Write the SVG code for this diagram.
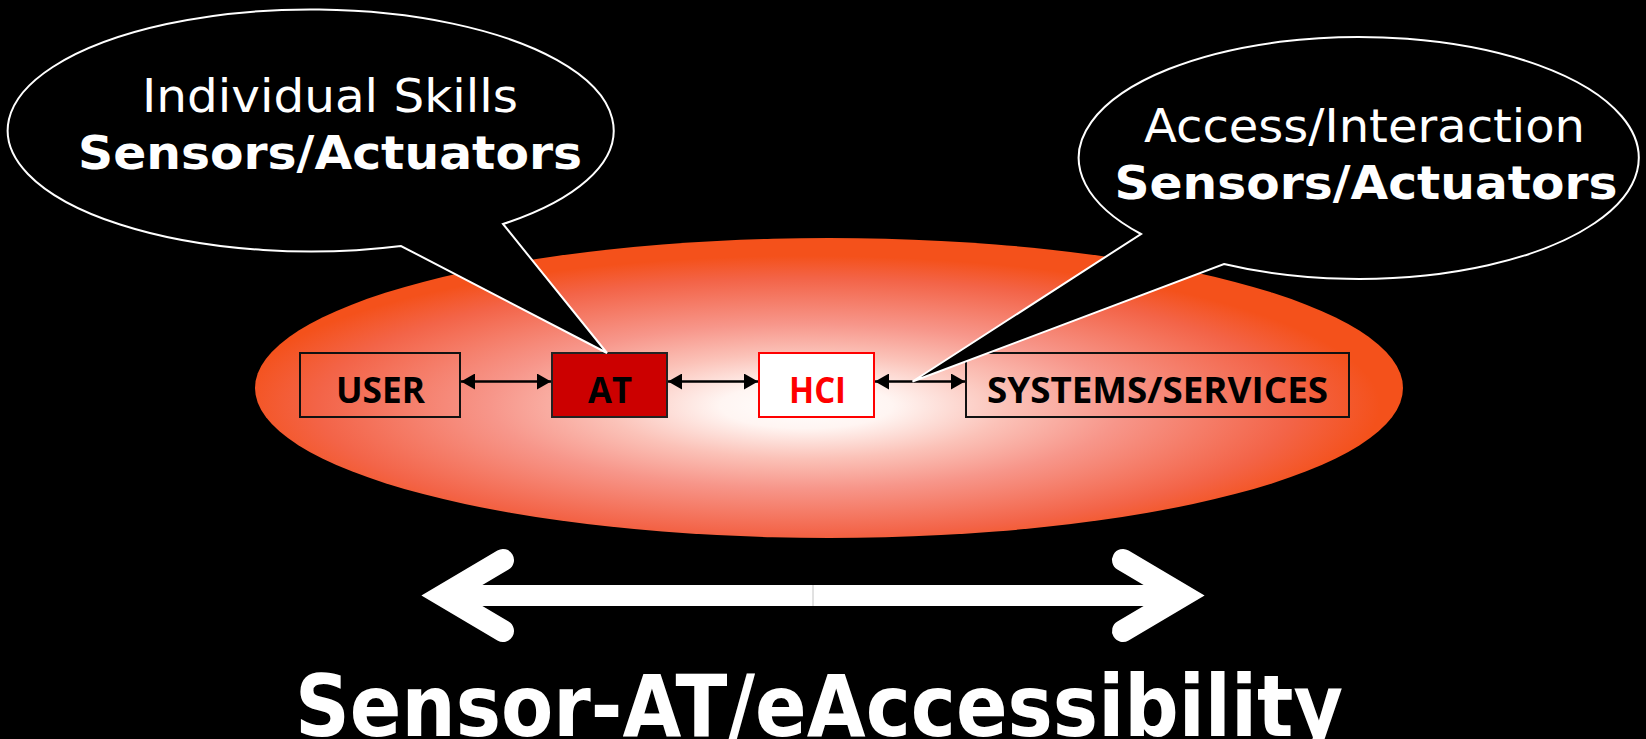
<svg xmlns="http://www.w3.org/2000/svg" width="1646" height="739" viewBox="0 0 1646 739">
  <defs>
    <radialGradient id="glow" cx="0.48" cy="0.56" r="0.5" fx="0.48" fy="0.56">
      <stop offset="0" stop-color="#FFFFFF"/>
      <stop offset="0.15" stop-color="#FFF5F2"/>
      <stop offset="0.35" stop-color="#FBC2B8"/>
      <stop offset="0.55" stop-color="#F7968A"/>
      <stop offset="0.85" stop-color="#F36448"/>
      <stop offset="1" stop-color="#F4511B"/>
    </radialGradient>
    <marker id="head" viewBox="0 0 14 16" refX="14" refY="8" markerWidth="14" markerHeight="16" markerUnits="userSpaceOnUse" orient="auto-start-reverse">
      <path d="M0,0 L14,8 L0,16 Z" fill="#000"/>
    </marker>
    <style>
      .box { stroke-width: 2; }
      .label { font-family: "Open Sans", "Liberation Sans", sans-serif; font-weight: 700; font-size: 36px; text-anchor: middle; }
      .bubble { fill: #000; stroke: #fff; stroke-width: 2; stroke-linejoin: miter; }
      .say { font-family: "DejaVu Sans", "Liberation Sans", sans-serif; font-size: 47px; fill: #fff; text-anchor: middle; }
      .say.b { font-weight: 700; }
      .link { stroke: #000; stroke-width: 2.5; fill: none; marker-start: url(#head); marker-end: url(#head); }
      .chev { fill: none; stroke: #fff; stroke-width: 22; stroke-linecap: round; stroke-linejoin: miter; }
      .title { font-family: "DejaVu Sans", "Liberation Sans", sans-serif; font-weight: 700; font-size: 86px; fill: #fff; text-anchor: middle; }
    </style>
  </defs>

  <rect x="0" y="0" width="1646" height="739" fill="#000"/>

  <!-- glowing backdrop -->
  <ellipse id="backdrop" cx="829" cy="388" rx="574" ry="150" fill="url(#glow)"/>

  <!-- chain of blocks -->
  <g id="user">
    <rect class="box" x="300" y="353" width="160" height="64" fill="none" stroke="#111"/>
    <text class="label" x="380.5" y="403" textLength="89" lengthAdjust="spacingAndGlyphs" fill="#000">USER</text>
  </g>
  <g id="at">
    <rect class="box" x="552" y="353" width="115" height="64" fill="#CC0000" stroke="#222"/>
    <text class="label" x="610" y="403" textLength="44" lengthAdjust="spacingAndGlyphs" fill="#000">AT</text>
  </g>
  <g id="hci">
    <rect class="box" x="759" y="353" width="115" height="64" fill="#FFFFFF" stroke="#FF0000"/>
    <text class="label" x="817.5" y="403" textLength="57" lengthAdjust="spacingAndGlyphs" fill="#FF0000">HCI</text>
  </g>
  <g id="systems">
    <rect class="box" x="966" y="353" width="383" height="64" fill="none" stroke="#111"/>
    <text class="label" x="1157.5" y="403" textLength="341" lengthAdjust="spacingAndGlyphs" fill="#000">SYSTEMS/SERVICES</text>
  </g>

  <!-- two-way links between blocks -->
  <g id="connectors">
    <line class="link" x1="461" y1="381.5" x2="551" y2="381.5"/>
    <line class="link" x1="668" y1="381.5" x2="758" y2="381.5"/>
    <line class="link" x1="875" y1="381.5" x2="965" y2="381.5"/>
  </g>

  <!-- speech bubbles -->
  <g id="bubble-skills">
    <path class="bubble" d="M503,224 A303,121 0 1 0 401,246 L607,353 Z"/>
    <text class="say" x="330" y="112" textLength="376" lengthAdjust="spacingAndGlyphs">Individual Skills</text>
    <text class="say b" x="330" y="169" textLength="504" lengthAdjust="spacingAndGlyphs">Sensors/Actuators</text>
  </g>
  <g id="bubble-access">
    <path class="bubble" d="M1224,264 A280,121 0 1 0 1141,234 L912.5,381.5 Z"/>
    <text class="say" x="1364.5" y="142" textLength="441" lengthAdjust="spacingAndGlyphs">Access/Interaction</text>
    <text class="say b" x="1366" y="199" textLength="503" lengthAdjust="spacingAndGlyphs">Sensors/Actuators</text>
  </g>

  <!-- wide double arrow -->
  <g id="span-arrow">
    <rect x="440" y="585" width="746" height="21" fill="#fff"/>
    <line x1="813" y1="585" x2="813" y2="606" stroke="#c4c4c4" stroke-width="1"/>
    <polyline class="chev" points="503,560 443,595.5 503,631"/>
    <polyline class="chev" points="1123,560 1183,595.5 1123,631"/>
  </g>

  <text id="title" class="title" x="819" y="736" textLength="1048" lengthAdjust="spacingAndGlyphs">Sensor-AT/eAccessibility</text>
</svg>
